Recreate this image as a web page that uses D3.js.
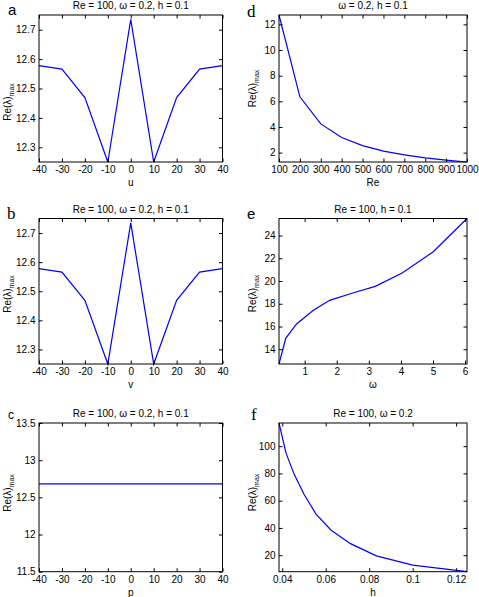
<!DOCTYPE html>
<html><head><meta charset="utf-8">
<script src="https://cdn.jsdelivr.net/npm/d3@7"></script>
<style>
html,body{margin:0;padding:0;background:#fff;}
svg{display:block;}
text{font-family:"Liberation Sans",Arial,Helvetica,sans-serif;fill:#000;}
</style></head>
<body>
<svg id="chart" width="479" height="597"></svg>
<script>
// ---------- data ----------
const uVals = [-40, -30, -20, -10, 0, 10, 20, 30, 40];
const reByU = [12.578, 12.566, 12.469, 12.25, 12.735, 12.25, 12.469, 12.566, 12.578];
const vVals = [-40, -30, -20, -10, 0, 10, 20, 30, 40];
const reByV = [12.578, 12.566, 12.469, 12.25, 12.735, 12.25, 12.469, 12.566, 12.578];
const pVals = [-40, -30, -20, -10, 0, 10, 20, 30, 40];
const reByP = [12.68, 12.68, 12.68, 12.68, 12.68, 12.68, 12.68, 12.68, 12.68];
const reyVals = [100, 200, 300, 400, 500, 600, 700, 800, 900, 1000];
const reByRe = [12.73, 6.35, 4.24, 3.18, 2.55, 2.12, 1.82, 1.59, 1.41, 1.27];
const omegaVals = [0.2, 0.41, 0.74, 1.26, 1.78, 2.5, 3.2, 4.04, 5.0, 6.06];
const reByOmega = [12.7, 14.96, 16.2, 17.4, 18.3, 18.95, 19.53, 20.7, 22.56, 25.5];
const hVals = [0.0385, 0.0417, 0.0455, 0.05, 0.0556, 0.0625, 0.0714, 0.0833, 0.1, 0.125];
const reByH = [117, 95.1, 79.3, 64.7, 50.0, 38.3, 28.5, 19.5, 12.7, 7.9];

// tick labels
const xTicksSym = [-40, -30, -20, -10, 0, 10, 20, 30, 40];
const yTicksAB = [12.3, 12.4, 12.5, 12.6, 12.7];
const yTicksC = [11.5, 12, 12.5, 13, 13.5];
const xTicksD = [100, 200, 300, 400, 500, 600, 700, 800, 900, 1000];
const yTicksD = [2, 4, 6, 8, 10, 12];
const xTicksE = [1, 2, 3, 4, 5, 6];
const yTicksE = [14, 16, 18, 20, 22, 24];
const xTicksF = [0.04, 0.06, 0.08, 0.1, 0.12];
const yTicksF = [20, 40, 60, 80, 100];

const titles = ["Re = 100, ω = 0.2, h = 0.1", "Re = 100, ω = 0.2, h = 0.1", "Re = 100, ω = 0.2, h = 0.1",
                "ω = 0.2, h = 0.1", "Re = 100, h = 0.1", "Re = 100, ω = 0.2"];
const letters = ["a", "b", "c", "d", "e", "f"];
const xLabels = ["u", "v", "p", "Re", "ω", "h"];

// ---------- layout ----------
const svg = d3.select("#chart");
const L = {x0: 39, x1: 222.5}, R = {x0: 279, x1: 467};
const rows = [{y0: 15, y1: 162}, {y0: 218.5, y1: 364}, {y0: 423, y1: 571.7}];

const panels = [
  {col: L, row: rows[0], xs: uVals, ys: reByU, xd: [-40, 40], yd: [12.25, 12.75], xt: xTicksSym, yt: yTicksAB,
   letter: {x: 8, y: 15, serif: false, size: 15}, ylabY: 102, ylabX: 11},
  {col: L, row: rows[1], xs: vVals, ys: reByV, xd: [-40, 40], yd: [12.25, 12.75], xt: xTicksSym, yt: yTicksAB,
   letter: {x: 7, y: 219, serif: true, size: 17}, ylabY: 294, ylabX: 11},
  {col: L, row: rows[2], xs: pVals, ys: reByP, xd: [-40, 40], yd: [11.5, 13.5], xt: xTicksSym, yt: yTicksC,
   letter: {x: 8, y: 419, serif: false, size: 12}, ylabY: 493, ylabX: 11},
  {col: R, row: rows[0], xs: reyVals, ys: reByRe, xd: [100, 1000], yd: [1.27, 12.73], xt: xTicksD, yt: yTicksD,
   letter: {x: 247, y: 17, serif: true, size: 17}, ylabY: 88.5, ylabX: 256},
  {col: R, row: rows[1], xs: omegaVals, ys: reByOmega, xd: [0.2, 6.06], yd: [12.7, 25.5], xt: xTicksE, yt: yTicksE,
   letter: {x: 247, y: 219, serif: false, size: 15}, ylabY: 293.5, ylabX: 256},
  {col: R, row: rows[2], xs: hVals, ys: reByH, xd: [0.0385, 0.125], yd: [7.9, 117], xt: xTicksF, yt: yTicksF,
   letter: {x: 251, y: 420, serif: true, size: 17}, ylabY: 492.5, ylabX: 256},
];

const tickLen = 3.5;
panels.forEach((p, i) => {
  const x = d3.scaleLinear().domain(p.xd).range([p.col.x0, p.col.x1]);
  const y = d3.scaleLinear().domain(p.yd).range([p.row.y1, p.row.y0]);
  const g = svg.append("g");

  // data line
  const data = p.xs.map((v, k) => [v, p.ys[k]]);
  g.append("path").datum(data)
    .attr("d", d3.line().x(d => x(d[0])).y(d => y(d[1])))
    .attr("fill", "none").attr("stroke", "#0000ff").attr("stroke-width", 1.2);

  // axes with inward ticks, mirrored
  const fmt = d => String(d);
  const bottom = d3.axisBottom(x).tickValues(p.xt).tickSizeInner(-tickLen).tickSizeOuter(0).tickPadding(4).tickFormat(fmt);
  const top = d3.axisTop(x).tickValues(p.xt).tickSizeInner(-tickLen).tickSizeOuter(0).tickFormat("");
  const left = d3.axisLeft(y).tickValues(p.yt).tickSizeInner(-tickLen).tickSizeOuter(0).tickPadding(6).tickFormat(fmt);
  const right = d3.axisRight(y).tickValues(p.yt).tickSizeInner(-tickLen).tickSizeOuter(0).tickFormat("");

  const axes = [
    g.append("g").attr("transform", `translate(0,${p.row.y1})`).call(bottom),
    g.append("g").attr("transform", `translate(0,${p.row.y0})`).call(top),
    g.append("g").attr("transform", `translate(${p.col.x0},0)`).call(left),
    g.append("g").attr("transform", `translate(${p.col.x1},0)`).call(right)
  ];
  axes.forEach(a => {
    a.select(".domain").remove();
    a.selectAll("line").attr("stroke", "#000").attr("stroke-width", 1);
    a.selectAll("text").attr("font-size", 10).attr("font-family", "Liberation Sans, Arial, sans-serif").attr("fill", "#000");
  });
  axes[2].selectAll("text").attr("dx", 2.5);

  // box
  g.append("rect").attr("x", p.col.x0).attr("y", p.row.y0)
    .attr("width", p.col.x1 - p.col.x0).attr("height", p.row.y1 - p.row.y0)
    .attr("fill", "none").attr("stroke", "#000").attr("stroke-width", 1);

  // title
  g.append("text").attr("x", (p.col.x0 + p.col.x1) / 2).attr("y", p.row.y0 - 6)
    .attr("text-anchor", "middle").attr("font-size", 10).text(titles[i]);

  // x label
  g.append("text").attr("x", (p.col.x0 + p.col.x1) / 2).attr("y", p.row.y1 + 24)
    .attr("text-anchor", "middle").attr("font-size", 10).text(xLabels[i]);

  // y label
  const yl = g.append("text").attr("transform", `translate(${p.ylabX},${p.ylabY}) rotate(-90)`)
    .attr("text-anchor", "middle").attr("font-size", 10);
  yl.append("tspan").text("Re(λ)");
  yl.append("tspan").attr("font-size", 7).attr("dy", 3).text("max");

  // panel letter
  g.append("text").attr("x", p.letter.x).attr("y", p.letter.y)
    .attr("font-size", p.letter.size)
    .style("font-family", p.letter.serif ? "'Liberation Serif', 'Times New Roman', serif" : "'Liberation Sans', Arial, sans-serif")
    .text(letters[i]);
});
</script>
</body></html>
